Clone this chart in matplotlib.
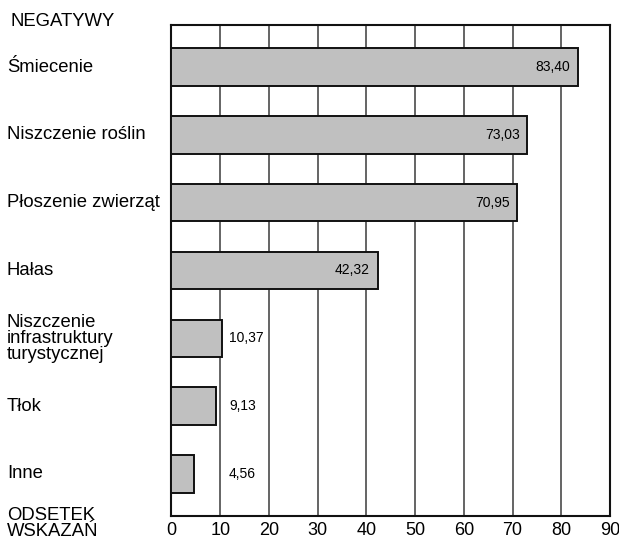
import matplotlib.pyplot as plt
import numpy as np

plt.rcParams['font.family'] = ['Liberation Sans', 'DejaVu Sans']

categories = ['Śmiecenie', 'Niszczenie roślin', 'Płoszenie zwierząt', 'Hałas',
              'Niszczenie\ninfrastruktury\nturystycznej', 'Tłok', 'Inne']
values = [83.40, 73.03, 70.95, 42.32, 10.37, 9.13, 4.56]
value_labels = ['83,40', '73,03', '70,95', '42,32', '10,37', '9,13', '4,56']
xticks = [0, 10, 20, 30, 40, 50, 60, 70, 80, 90]

fig = plt.figure(figsize=(6.19, 5.39), dpi=100)
ax = fig.add_axes([0.277, 0.0427, 0.7085, 0.9109])

y = np.arange(len(categories))
ax.barh(y, values, height=0.55, color='#c0c0c0', edgecolor='#111111', linewidth=1.4, zorder=3)

ax.set_xlim(0, 90)
ax.set_ylim(len(categories) - 0.38, -0.62)
ax.set_xticks(xticks)
ax.set_xticklabels([str(t) for t in xticks], fontsize=13)
ax.tick_params(axis='x', length=0, pad=4)
ax.set_yticks([])
for t in xticks[1:-1]:
    ax.axvline(t, color='#3a3a3a', linewidth=1.1, zorder=1)
for s in ax.spines.values():
    s.set_linewidth(1.5)
    s.set_color('#111111')

for i, (v, lab) in enumerate(zip(values, value_labels)):
    if v > 30:
        ax.annotate(lab, (v, i), xytext=(-5.5, 0), textcoords='offset points',
                    ha='right', va='center', fontsize=10, zorder=4)
    else:
        # small values: labels sit in a column just right of the 10 gridline
        ax.annotate(lab, (11.8, i), ha='left', va='center', fontsize=10, zorder=4)

for i, c in enumerate(categories):
    ax.annotate(c, (0, i), xycoords=('figure fraction', 'data'), xytext=(5, 0),
                textcoords='offset points', ha='left', va='center', fontsize=13.3,
                linespacing=0.92)

fig.text(10 / 619, 1 - 21 / 539, 'NEGATYWY', ha='left', va='center', fontsize=13.3)
fig.text(7 / 619, 1 - 520 / 539, 'ODSETEK', ha='left', va='baseline', fontsize=13.3)
fig.text(7 / 619, 1 - 536 / 539, 'WSKAZAŃ', ha='left', va='baseline', fontsize=13.3)

fig.savefig('out.png', dpi=100)
